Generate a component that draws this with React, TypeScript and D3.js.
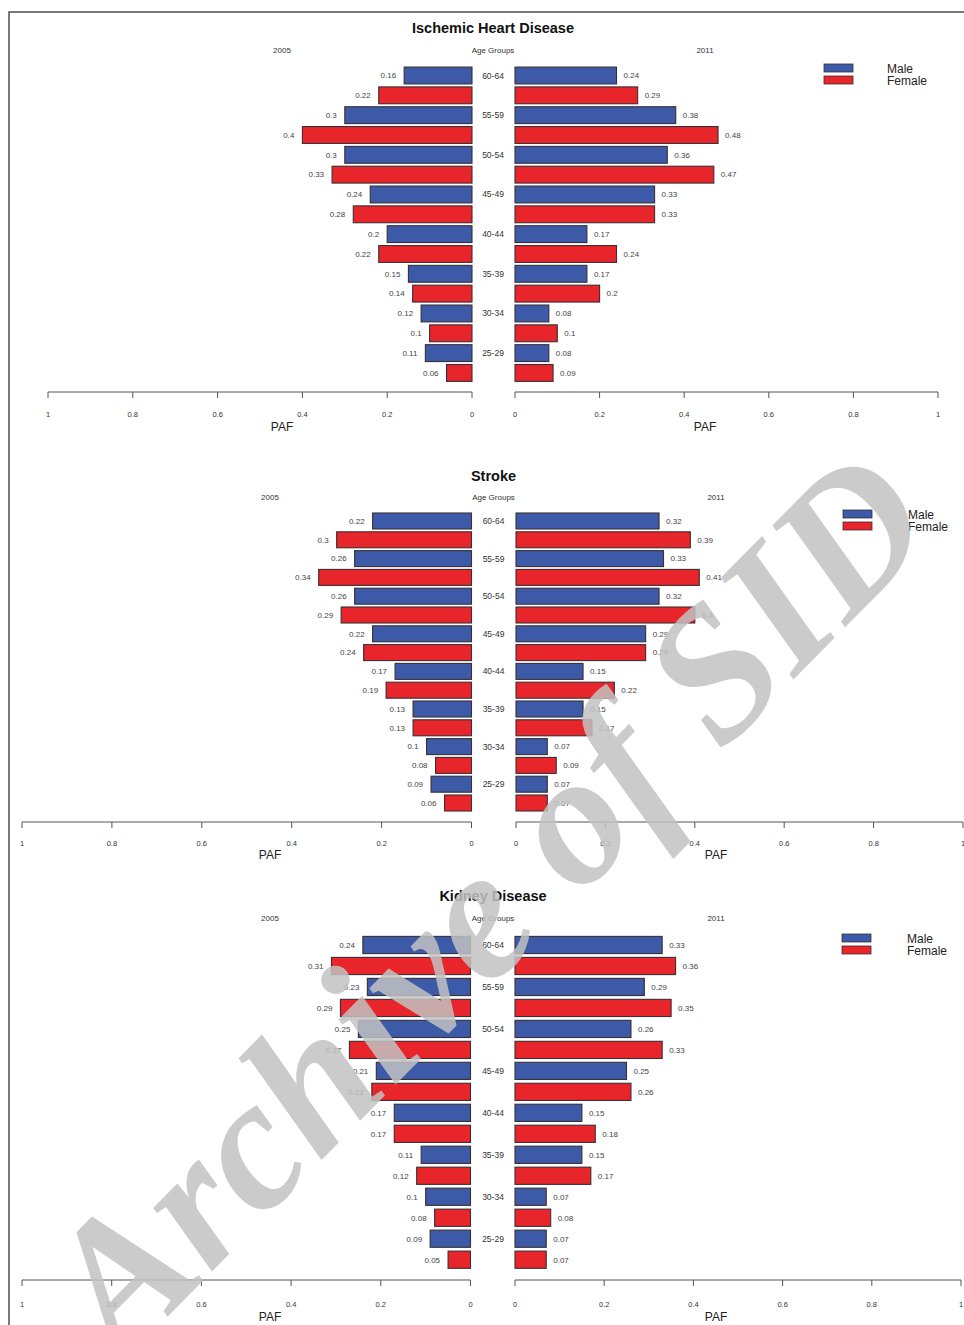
import React from "react";
import * as d3 from "d3";

// ---------- data ----------
const AGE_GROUPS = ["60-64", "55-59", "50-54", "45-49", "40-44", "35-39", "30-34", "25-29"];
const SEXES = ["Male", "Female"];
const YEARS = ["2005", "2011"];
const PAF_TICKS = [0, 0.2, 0.4, 0.6, 0.8, 1];

const IHD_MALE_2005 = [0.16, 0.3, 0.3, 0.24, 0.2, 0.15, 0.12, 0.11];
const IHD_FEMALE_2005 = [0.22, 0.4, 0.33, 0.28, 0.22, 0.14, 0.1, 0.06];
const IHD_MALE_2011 = [0.24, 0.38, 0.36, 0.33, 0.17, 0.17, 0.08, 0.08];
const IHD_FEMALE_2011 = [0.29, 0.48, 0.47, 0.33, 0.24, 0.2, 0.1, 0.09];

const STROKE_MALE_2005 = [0.22, 0.26, 0.26, 0.22, 0.17, 0.13, 0.1, 0.09];
const STROKE_FEMALE_2005 = [0.3, 0.34, 0.29, 0.24, 0.19, 0.13, 0.08, 0.06];
const STROKE_MALE_2011 = [0.32, 0.33, 0.32, 0.29, 0.15, 0.15, 0.07, 0.07];
const STROKE_FEMALE_2011 = [0.39, 0.41, 0.4, 0.29, 0.22, 0.17, 0.09, 0.07];

const KIDNEY_MALE_2005 = [0.24, 0.23, 0.25, 0.21, 0.17, 0.11, 0.1, 0.09];
const KIDNEY_FEMALE_2005 = [0.31, 0.29, 0.27, 0.22, 0.17, 0.12, 0.08, 0.05];
const KIDNEY_MALE_2011 = [0.33, 0.29, 0.26, 0.25, 0.15, 0.15, 0.07, 0.07];
const KIDNEY_FEMALE_2011 = [0.36, 0.35, 0.33, 0.26, 0.18, 0.17, 0.08, 0.07];

const WATERMARK = "Archive of SID";

// ---------- styling / layout ----------
const COLORS: Record<string, string> = { Male: "#3d5aa8", Female: "#e8252a" };
const FONT = "'Liberation Sans', Arial, Helvetica, sans-serif";

const PANELS = [
  {
    title: "Ischemic Heart Disease",
    male05: IHD_MALE_2005, female05: IHD_FEMALE_2005, male11: IHD_MALE_2011, female11: IHD_FEMALE_2011,
    titleY: 33, headerY: 53, centerX: 493, leftHdrX: 282, rightHdrX: 705,
    leftZero: 472, leftOne: 48, rightZero: 515, rightOne: 938,
    y0: 75.5, step: 19.83, pad: 0.15,
    axisY: 392, tickLabelY: 417, pafY: 431,
    legX: 824, legY: 68, legTextX: 887,
  },
  {
    title: "Stroke",
    male05: STROKE_MALE_2005, female05: STROKE_FEMALE_2005, male11: STROKE_MALE_2011, female11: STROKE_FEMALE_2011,
    titleY: 481, headerY: 500, centerX: 493.5, leftHdrX: 270, rightHdrX: 716,
    leftZero: 471.5, leftOne: 22, rightZero: 516, rightOne: 963,
    y0: 521, step: 18.8, pad: 0.15,
    axisY: 822, tickLabelY: 846, pafY: 859,
    legX: 843, legY: 514, legTextX: 908,
  },
  {
    title: "Kidney Disease",
    male05: KIDNEY_MALE_2005, female05: KIDNEY_FEMALE_2005, male11: KIDNEY_MALE_2011, female11: KIDNEY_FEMALE_2011,
    titleY: 901, headerY: 921, centerX: 493, leftHdrX: 270, rightHdrX: 716,
    leftZero: 470.5, leftOne: 22, rightZero: 515, rightOne: 961,
    y0: 945, step: 20.98, pad: 0.18,
    axisY: 1280, tickLabelY: 1307, pafY: 1321,
    legX: 842, legY: 938, legTextX: 907,
  },
];

type PanelCfg = (typeof PANELS)[number];

function Panel({ p }: { p: PanelCfg }) {
  const left = d3.scaleLinear().domain([0, 1]).range([p.leftZero, p.leftOne]);
  const right = d3.scaleLinear().domain([0, 1]).range([p.rightZero, p.rightOne]);
  const rows: { age: string; sex: string; v05: number; v11: number; first: boolean }[] = [];
  AGE_GROUPS.forEach((age, i) => {
    rows.push({ age, sex: SEXES[0], v05: p.male05[i], v11: p.male11[i], first: true });
    rows.push({ age, sex: SEXES[1], v05: p.female05[i], v11: p.female11[i], first: false });
  });
  const n = rows.length;
  const y = d3
    .scaleBand<number>()
    .domain(d3.range(n))
    .range([p.y0 - p.step / 2, p.y0 + (n - 0.5) * p.step])
    .paddingInner(p.pad)
    .paddingOuter(p.pad / 2);
  const bw = y.bandwidth();
  const fmt = d3.format("");
  const tickLen = 6;

  return (
    <g fontFamily={FONT}>
      <text x={p.centerX} y={p.titleY} textAnchor="middle" fontSize={14.5} fontWeight="bold" fill="#111">
        {p.title}
      </text>
      <text x={p.leftHdrX} y={p.headerY} textAnchor="middle" fontSize={8} fill="#333">{YEARS[0]}</text>
      <text x={p.centerX} y={p.headerY} textAnchor="middle" fontSize={8} fill="#333">Age Groups</text>
      <text x={p.rightHdrX} y={p.headerY} textAnchor="middle" fontSize={8} fill="#333">{YEARS[1]}</text>

      {rows.map((r, i) => {
        const yy = y(i)!;
        const cy = yy + bw / 2;
        return (
          <g key={i}>
            <rect x={left(r.v05)} y={yy} width={left(0) - left(r.v05)} height={bw}
              fill={COLORS[r.sex]} stroke="#3a2f33" strokeWidth={1.1} />
            <rect x={right(0)} y={yy} width={right(r.v11) - right(0)} height={bw}
              fill={COLORS[r.sex]} stroke="#3a2f33" strokeWidth={1.1} />
            <text x={left(r.v05) - 8} y={cy + 2.8} textAnchor="end" fontSize={8} fill="#444">{fmt(r.v05)}</text>
            <text x={right(r.v11) + 7} y={cy + 2.8} textAnchor="start" fontSize={8} fill="#444">{fmt(r.v11)}</text>
            {r.first && (
              <text x={p.centerX} y={cy + 3} textAnchor="middle" fontSize={8.5} fill="#333">{r.age}</text>
            )}
          </g>
        );
      })}

      {/* axes */}
      {[left, right].map((sc, k) => (
        <g key={k}>
          <line x1={sc(0)} x2={sc(1)} y1={p.axisY} y2={p.axisY} stroke="#555" strokeWidth={1} />
          {PAF_TICKS.map((t) => (
            <g key={t}>
              <line x1={sc(t)} x2={sc(t)} y1={p.axisY} y2={p.axisY + tickLen} stroke="#555" strokeWidth={1} />
              <text x={sc(t)} y={p.tickLabelY} textAnchor="middle" fontSize={7.5} fill="#333">{fmt(t)}</text>
            </g>
          ))}
          <text x={k === 0 ? p.leftHdrX : p.rightHdrX} y={p.pafY} textAnchor="middle" fontSize={12} fill="#222">PAF</text>
        </g>
      ))}

      {/* legend */}
      {SEXES.map((s, i) => (
        <g key={s}>
          <rect x={p.legX} y={p.legY - 4 + i * 12} width={29} height={8} fill={COLORS[s]} stroke="#3a2f33" strokeWidth={0.8} />
          <text x={p.legTextX} y={p.legY + 4.5 + i * 12} fontSize={12} fill="#222">{s}</text>
        </g>
      ))}
    </g>
  );
}

export default function App() {
  return (
    <svg width={964} height={1325} style={{ position: "absolute", left: 0, top: 0, background: "#fff" }}>
      <rect x={0} y={0} width={964} height={1325} fill="#fff" />
      <rect x={9} y={12} width={1200} height={1600} fill="none" stroke="#333" strokeWidth={1.3} />
      {PANELS.map((p) => (
        <Panel key={p.title} p={p} />
      ))}
      <text
        x={0}
        y={0}
        transform="translate(486,902) rotate(-45.5)"
        textAnchor="middle"
        dominantBaseline="central"
        fontFamily="'Liberation Serif', 'Times New Roman', serif"
        fontStyle="italic"
        fontWeight="bold"
        fontSize={188}
        fill="#c2c2c2"
        fillOpacity={0.85}
      >
        {WATERMARK}
      </text>
    </svg>
  );
}
